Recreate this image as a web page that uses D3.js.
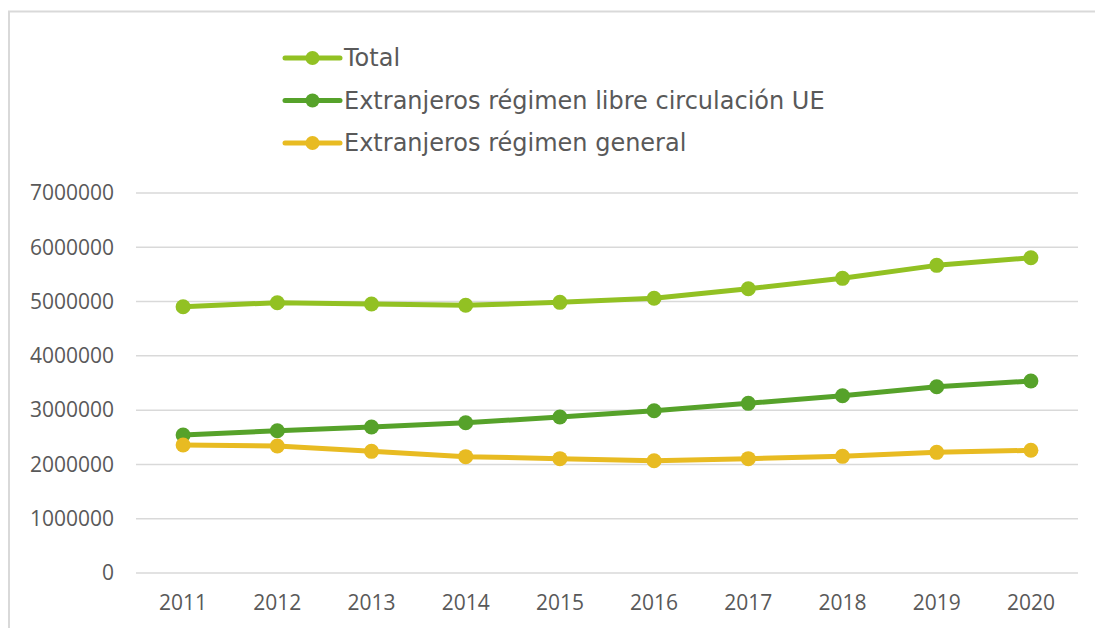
<!DOCTYPE html>
<html>
<head>
<meta charset="utf-8">
<script src="https://cdn.jsdelivr.net/npm/d3@7"></script>
<style>
  body { margin: 0; background: #fff; }
  svg { display: block; }
  .tick text { fill: #595959; font-family: 'Open Sans', sans-serif; font-size: 21px; }
  .legend text { fill: #595959; font-family: 'DejaVu Sans', sans-serif; font-size: 24px; }
</style>
</head>
<body>
<svg class="chart"></svg>
<script>
const years = ['2011', '2012', '2013', '2014', '2015', '2016', '2017', '2018', '2019', '2020']
const total = [4905000, 4979000, 4955000, 4931000, 4986000, 5060000, 5237000, 5428000, 5667000, 5808000]
const libreUE = [2542000, 2621000, 2689000, 2769000, 2873000, 2990000, 3125000, 3266000, 3432000, 3537000]
const general = [2358000, 2339000, 2241000, 2143000, 2106000, 2069000, 2106000, 2149000, 2223000, 2260000]
const seriesNames = ['Total', 'Extranjeros régimen libre circulación UE', 'Extranjeros régimen general']
const seriesColors = ['#92c123', '#56a22a', '#e8bb22']
const yTicks = [0, 1000000, 2000000, 3000000, 4000000, 5000000, 6000000, 7000000]

const width = 1095
const height = 628
const margin = { top: 193, right: 17, bottom: 55, left: 136 }

const series = [total, libreUE, general].map((values, i) => ({
  name: seriesNames[i],
  color: seriesColors[i],
  values,
}))

const chart = d3.select('.chart')
  .attr('width', width)
  .attr('height', height)

// frame of the embedded chart, cut off at right and bottom
chart.append('path')
  .attr('d', `M9,${height + 5}V11.5H${width + 5}`)
  .attr('fill', 'none')
  .attr('stroke', '#d9d9d9')
  .attr('stroke-width', 2)

const x = d3.scaleBand()
  .domain(years)
  .range([margin.left, width - margin.right])

const y = d3.scaleLinear()
  .domain([0, 7000000])
  .range([height - margin.bottom, margin.top])

// gridlines
chart.append('g')
  .selectAll('line')
  .data(yTicks)
  .enter()
  .append('line')
  .attr('x1', margin.left)
  .attr('x2', width - margin.right)
  .attr('y1', d => y(d))
  .attr('y2', d => y(d))
  .attr('stroke', '#d9d9d9')
  .attr('stroke-width', 1.5)

chart.append('g')
  .attr('transform', `translate(${margin.left - 22},0)`)
  .call(d3.axisLeft(y).tickValues(yTicks).tickFormat(d3.format('d')).tickSize(0).tickPadding(0))
  .call(g => g.select('.domain').remove())

chart.append('g')
  .attr('transform', `translate(0,${height - margin.bottom})`)
  .call(d3.axisBottom(x).tickSize(0).tickPadding(22))
  .call(g => g.select('.domain').remove())

const line = d3.line()
  .x((d, i) => x(years[i]) + x.bandwidth() / 2)
  .y(d => y(d))

series.forEach((s) => {
  const g = chart.append('g')
  g.append('path')
    .attr('d', line(s.values))
    .attr('fill', 'none')
    .attr('stroke', s.color)
    .attr('stroke-width', 5)
    .attr('stroke-linejoin', 'round')
    .attr('stroke-linecap', 'round')
  g.selectAll('circle')
    .data(s.values)
    .enter()
    .append('circle')
    .attr('cx', (d, i) => x(years[i]) + x.bandwidth() / 2)
    .attr('cy', d => y(d))
    .attr('r', 7.5)
    .attr('fill', s.color)
})

// legend
const legendY = d3.scalePoint().domain(seriesNames).range([58, 143])
const legend = chart.append('g').attr('class', 'legend')
  .selectAll('g')
  .data(series)
  .enter()
  .append('g')
  .attr('transform', s => `translate(285,${legendY(s.name)})`)
legend.append('line')
  .attr('x1', 0)
  .attr('x2', 55)
  .attr('stroke', s => s.color)
  .attr('stroke-width', 5)
  .attr('stroke-linecap', 'round')
legend.append('circle')
  .attr('cx', 27.5)
  .attr('r', 7)
  .attr('fill', s => s.color)
legend.append('text')
  .attr('x', 59)
  .attr('dy', '0.35em')
  .text(s => s.name)
</script>
</body>
</html>
